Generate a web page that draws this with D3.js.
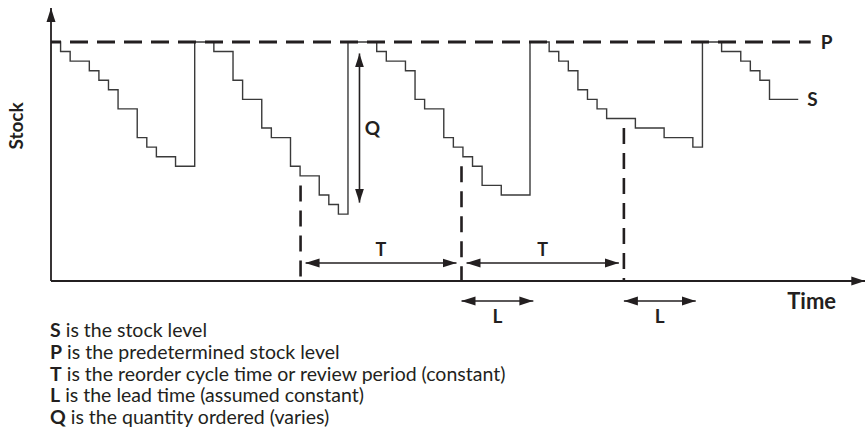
<!DOCTYPE html>
<html>
<head>
<meta charset="utf-8">
<script src="https://cdn.jsdelivr.net/npm/d3@7"></script>
<style>
  body { margin: 0; background: #fff; }
  text { font-family: Lato, "Open Sans", sans-serif; fill: #231f20; }
  .label { font-weight: 700; }
  .legend { font-size: 19.5px; }
</style>
</head>
<body>
<div id="chart"></div>
<script>
(function () {
  // stock level S over time (days), step after each point
  const stockDays = [0, 1, 2, 4, 5, 6, 7, 9, 10, 11, 13, 15, 17, 19, 20, 22, 23, 25, 26, 28, 29, 30, 31,
    34, 35, 37, 38, 39, 41, 42, 43, 44, 45, 47, 50, 52, 53, 54, 55, 56, 57, 58, 61, 64, 67, 68,
    70, 72, 73, 74, 75, 78];
  const stockLevels = [25, 24, 23, 22, 21, 20, 18, 15, 14, 13, 12, 25, 24, 21, 19, 16, 15, 12, 11, 9, 8, 7, 25,
    24, 23, 22, 19, 18, 15, 14, 13, 12, 10, 9, 25, 24, 23, 22, 20, 19, 18, 17, 16, 15, 14, 25,
    24, 23, 22, 21, 19, 19];

  const predetermined = 25; // P
  const pLineEnd = 79.3;
  const reviewDays = [26.05, 42.85, 59.8]; // review points, T apart
  const reviewTops = [10, 12, 16]; // where the dashed review line starts
  const leadTime = 7.5; // L
  const qArrow = { day: 32.2, low: 8.2, high: 23.8 };

  const legendKeys = ["S", "P", "T", "L", "Q"];
  const legendTexts = [
    " is the stock level",
    " is the predetermined stock level",
    " is the reorder cycle time or review period (constant)",
    " is the lead time (assumed constant)",
    " is the quantity ordered (varies)",
  ];

  const W = 865;
  const H = 441;
  const dark = "#231f20";

  const svg = d3
    .select("#chart")
    .append("svg")
    .attr("width", W)
    .attr("height", H);

  const x = d3.scaleLinear().domain([0, 85]).range([51, 51 + 85 * 9.58]);
  const y = d3.scaleLinear().domain([0, 25]).range([281, 42]);

  // arrowhead markers
  const defs = svg.append("defs");
  defs
    .append("marker")
    .attr("id", "head")
    .attr("viewBox", "0 0 14 10")
    .attr("refX", 14)
    .attr("refY", 5)
    .attr("markerWidth", 14)
    .attr("markerHeight", 10)
    .attr("markerUnits", "userSpaceOnUse")
    .attr("orient", "auto-start-reverse")
    .append("path")
    .attr("d", "M0,0.5 L14,5 L0,9.5 Z")
    .attr("fill", dark);

  // axes
  svg
    .append("line")
    .attr("x1", x(0))
    .attr("y1", y(0))
    .attr("x2", x(0))
    .attr("y2", 8)
    .attr("stroke", dark)
    .attr("stroke-width", 1.8)
    .attr("marker-end", "url(#head)");
  svg
    .append("line")
    .attr("x1", x(0))
    .attr("y1", y(0))
    .attr("x2", x(85))
    .attr("y2", y(0))
    .attr("stroke", dark)
    .attr("stroke-width", 1.8)
    .attr("marker-end", "url(#head)");

  // stock level step line
  const stockData = stockDays.map((d, i) => ({ day: d, stock: stockLevels[i] }));
  const line = d3
    .line()
    .x((d) => x(d.day))
    .y((d) => y(d.stock))
    .curve(d3.curveStepAfter);
  svg
    .append("path")
    .datum(stockData)
    .attr("d", line)
    .attr("fill", "none")
    .attr("stroke", "#3a3a3a")
    .attr("stroke-width", 1.4);

  // predetermined level P
  svg
    .append("line")
    .attr("x1", x(0))
    .attr("y1", y(predetermined))
    .attr("x2", x(pLineEnd))
    .attr("y2", y(predetermined))
    .attr("stroke", dark)
    .attr("stroke-width", 3)
    .attr("stroke-dasharray", "18,9")
    .attr("stroke-dashoffset", 8);

  // review points (dashed verticals)
  svg
    .selectAll("line.review")
    .data(reviewDays)
    .join("line")
    .attr("class", "review")
    .attr("x1", (d) => x(d))
    .attr("x2", (d) => x(d))
    .attr("y1", (d, i) => y(reviewTops[i]))
    .attr("y2", y(0))
    .attr("stroke", dark)
    .attr("stroke-width", 2.6)
    .attr("stroke-dasharray", "16,9");

  // T arrows between review points
  const tPairs = d3.pairs(reviewDays);
  const tY = y(0) - 18;
  svg
    .selectAll("line.t-arrow")
    .data(tPairs)
    .join("line")
    .attr("class", "t-arrow")
    .attr("x1", (d) => x(d[0]) + 5)
    .attr("x2", (d) => x(d[1]) - 5)
    .attr("y1", tY)
    .attr("y2", tY)
    .attr("stroke", dark)
    .attr("stroke-width", 1.6)
    .attr("marker-start", "url(#head)")
    .attr("marker-end", "url(#head)");
  svg
    .selectAll("text.t-label")
    .data(tPairs)
    .join("text")
    .attr("class", "label t-label")
    .attr("x", (d) => x((d[0] + d[1]) / 2))
    .attr("y", tY - 7)
    .attr("text-anchor", "middle")
    .style("font-size", "18px")
    .text("T");

  // L arrows after the last two review points
  const lStarts = reviewDays.slice(1);
  const lY = y(0) + 20;
  svg
    .selectAll("line.l-arrow")
    .data(lStarts)
    .join("line")
    .attr("class", "l-arrow")
    .attr("x1", (d) => x(d))
    .attr("x2", (d) => x(d + leadTime))
    .attr("y1", lY)
    .attr("y2", lY)
    .attr("stroke", dark)
    .attr("stroke-width", 1.6)
    .attr("marker-start", "url(#head)")
    .attr("marker-end", "url(#head)");
  svg
    .selectAll("text.l-label")
    .data(lStarts)
    .join("text")
    .attr("class", "label l-label")
    .attr("x", (d) => x(d + leadTime / 2))
    .attr("y", lY + 22)
    .attr("text-anchor", "middle")
    .style("font-size", "19px")
    .text("L");

  // Q arrow
  svg
    .append("line")
    .attr("x1", x(qArrow.day))
    .attr("x2", x(qArrow.day))
    .attr("y1", y(qArrow.high))
    .attr("y2", y(qArrow.low))
    .attr("stroke", dark)
    .attr("stroke-width", 1.6)
    .attr("marker-start", "url(#head)")
    .attr("marker-end", "url(#head)");
  svg
    .append("text")
    .attr("class", "label")
    .attr("x", x(qArrow.day) + 13)
    .attr("y", y((qArrow.high + qArrow.low) / 2) + 7)
    .attr("text-anchor", "middle")
    .style("font-size", "19px")
    .text("Q");

  // P and S labels
  svg
    .append("text")
    .attr("class", "label")
    .attr("x", x(pLineEnd) + 10)
    .attr("y", y(predetermined) + 7)
    .style("font-size", "19px")
    .text("P");
  const last = stockData[stockData.length - 1];
  svg
    .append("text")
    .attr("class", "label")
    .attr("x", x(last.day) + 9)
    .attr("y", y(last.stock) + 7)
    .style("font-size", "19px")
    .text("S");

  // axis titles
  svg
    .append("text")
    .attr("class", "label")
    .attr("x", x(79.4))
    .attr("y", y(0) + 28)
    .attr("text-anchor", "middle")
    .style("font-size", "22px")
    .text("Time");
  svg
    .append("text")
    .attr("class", "label")
    .attr("transform", `translate(23,126) rotate(-90)`)
    .attr("text-anchor", "middle")
    .style("font-size", "19px")
    .text("Stock");

  // legend
  const legend = svg
    .selectAll("text.legend")
    .data(legendKeys)
    .join("text")
    .attr("class", "legend")
    .attr("x", 50)
    .attr("y", (d, i) => 337 + i * 21.8);
  legend
    .append("tspan")
    .attr("class", "label")
    .text((d) => d);
  legend.append("tspan").text((d, i) => legendTexts[i]);
})();
</script>
</body>
</html>
